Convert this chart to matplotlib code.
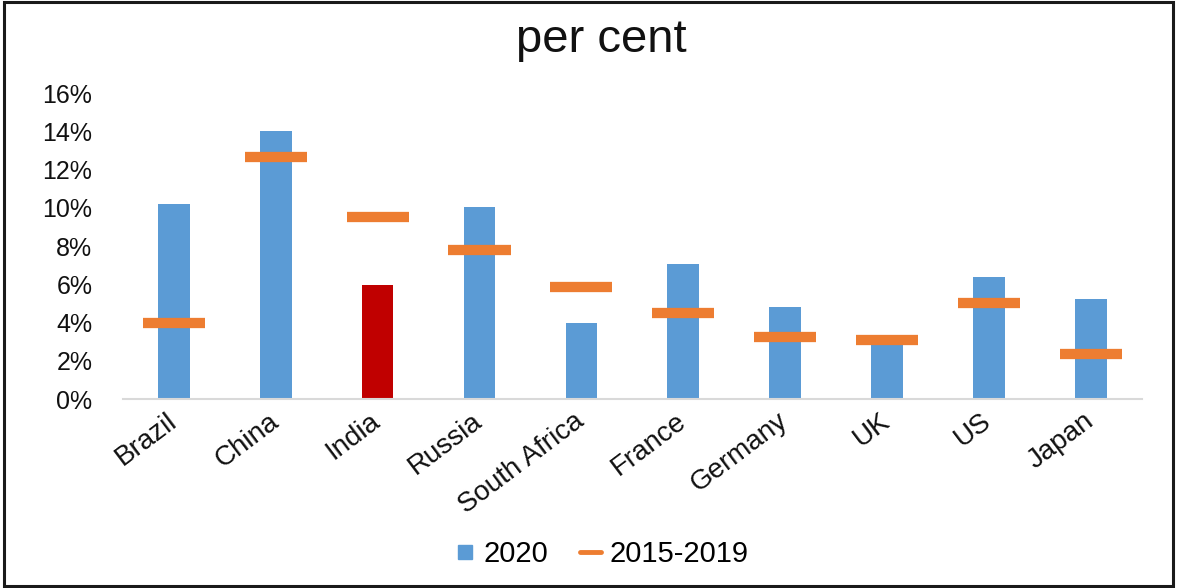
import matplotlib.pyplot as plt
from matplotlib.lines import Line2D
from matplotlib.patches import Rectangle
from matplotlib.ticker import FuncFormatter

plt.rcParams['font.family'] = ['Liberation Sans', 'DejaVu Sans']

countries = ['Brazil', 'China', 'India', 'Russia', 'South Africa',
             'France', 'Germany', 'UK', 'US', 'Japan']
growth_2020 = [10.2, 14.0, 5.95, 10.05, 3.95, 7.05, 4.8, 2.9, 6.4, 5.25]
avg_2015_2019 = [4.0, 12.65, 9.5, 7.8, 5.85, 4.5, 3.25, 3.1, 5.0, 2.35]
highlight = 'India'

blue = '#5B9BD5'
orange = '#ED7D31'
red = '#C00000'

fig = plt.figure(figsize=(11.77, 5.88), dpi=100)
ax = fig.add_axes([0.1045, 0.3214, 0.8655, 0.5204])

x = list(range(len(countries)))
bar_colours = [red if c == highlight else blue for c in countries]
ax.bar(x, growth_2020, width=0.31, color=bar_colours, zorder=2)
# short thick dashes for the 2015-2019 average
ax.hlines(avg_2015_2019, [i - 0.305 for i in x], [i + 0.305 for i in x],
          colors=orange, linewidth=7.4, capstyle='butt', zorder=3)

ax.set_xlim(-0.5, len(countries) - 0.5)
ax.set_ylim(0, 16)
ax.set_yticks(range(0, 17, 2))
ax.yaxis.set_major_formatter(FuncFormatter(lambda v, p: '%d%%' % v))
ax.set_xticks(x)
ax.set_xticklabels(countries, rotation=37, ha='right', va='center',
                   rotation_mode='anchor', fontsize=20, color='#111111')
ax.tick_params(axis='y', length=0, pad=22, labelsize=18, labelcolor='#111111')
ax.tick_params(axis='x', length=0, pad=14)

for side in ['top', 'right', 'left']:
    ax.spines[side].set_visible(False)
ax.spines['bottom'].set_color('#D9D9D9')
ax.spines['bottom'].set_linewidth(1.5)

fig.text(0.511, 0.9116, 'per cent', ha='center', va='baseline',
         fontsize=34, color='#111111')

handles = [
    Line2D([], [], linestyle='none', marker='s', markersize=10,
           color=blue),
    Line2D([], [], color=orange, linewidth=3.5, solid_capstyle='round'),
]
fig.legend(handles, ['2020', '2015-2019'], loc='center',
           bbox_to_anchor=(0.511, 0.058), ncol=2, frameon=False,
           fontsize=21, handlelength=0.7, handletextpad=0.3,
           columnspacing=1.1)

fig.patches.append(Rectangle((0.003, 0.004), 0.994, 0.992, fill=False,
                             edgecolor='#1a1a1a', linewidth=2.2,
                             transform=fig.transFigure, figure=fig))

fig.savefig('out.png', dpi=100)
